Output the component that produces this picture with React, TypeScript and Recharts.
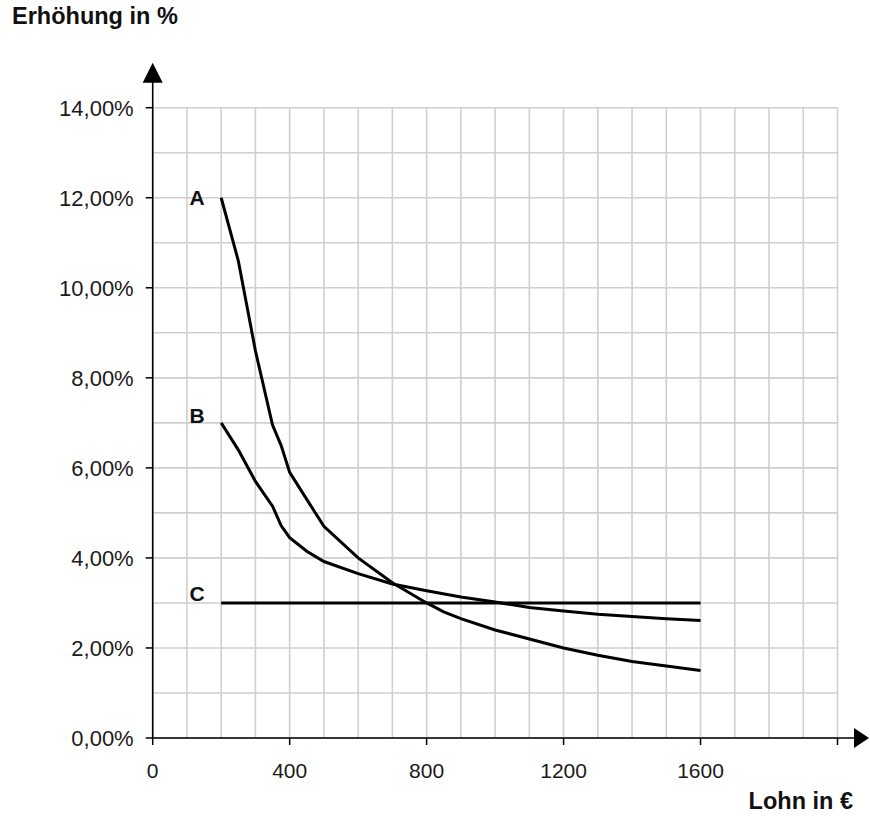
import React from 'react';
import { LineChart, Line, XAxis, YAxis, CartesianGrid, ReferenceLine, ReferenceDot } from 'recharts';

// Kurve A
const lohnA = [200, 250, 300, 350, 375, 400, 450, 500, 600, 700, 800, 850, 900, 1000, 1200, 1300, 1400, 1500, 1600];
const erhoehungA = [12.0, 10.6, 8.6, 6.95, 6.5, 5.9, 5.3, 4.7, 4.0, 3.45, 3.0, 2.8, 2.65, 2.4, 2.0, 1.84, 1.7, 1.6, 1.5];

// Kurve B
const lohnB = [200, 250, 300, 350, 375, 400, 450, 500, 600, 700, 800, 900, 1000, 1100, 1200, 1300, 1400, 1500, 1600];
const erhoehungB = [7.0, 6.4, 5.7, 5.15, 4.72, 4.45, 4.15, 3.92, 3.65, 3.42, 3.27, 3.13, 3.02, 2.9, 2.82, 2.75, 2.7, 2.65, 2.61];

// Kurve C
const lohnC = [200, 1600];
const erhoehungC = [3, 3];

const xTicks = [0, 400, 800, 1200, 1600, 2000];
const yTicks = [0, 2, 4, 6, 8, 10, 12, 14];
const gridX = Array.from({ length: 21 }, (_, i) => i * 100);
const gridY = Array.from({ length: 15 }, (_, i) => i);

const toRows = (xs: number[], ys: number[]) => xs.map((x, i) => ({ x, y: ys[i] }));
const dataA = toRows(lohnA, erhoehungA);
const dataB = toRows(lohnB, erhoehungB);
const dataC = toRows(lohnC, erhoehungC);

const font = '"Liberation Sans", Arial, sans-serif';
const xTickStyle = { fill: '#1a1a1a', fontSize: 21, fontFamily: font };
const yTickStyle = { fill: '#1a1a1a', fontSize: 22, fontFamily: font };

const seriesLabel = (name: string, dy: number) => (props: any) => {
  if (props.index !== 0) return null;
  return (
    <text
      key={name}
      x={props.x - 24}
      y={props.y + dy}
      textAnchor="middle"
      dominantBaseline="central"
      fontFamily={font}
      fontWeight="bold"
      fontSize={21}
      fill="#111"
    >
      {name}
    </text>
  );
};

const UpArrow = (props: any) => (
  <polygon points={`${props.cx},${props.cy} ${props.cx - 10},${props.cy + 20} ${props.cx + 10},${props.cy + 20}`} fill="#000" />
);
const RightArrow = (props: any) => (
  <polygon points={`${props.cx},${props.cy} ${props.cx - 15},${props.cy - 10} ${props.cx - 15},${props.cy + 10}`} fill="#000" />
);

export default function App() {
  return (
    <div style={{ position: 'absolute', left: 0, top: 0, width: 870, height: 816, background: '#fff' }}>
      <div style={{ position: 'absolute', left: 12, top: 3, fontFamily: font, fontWeight: 'bold', fontSize: 23.5, lineHeight: '27px', color: '#111' }}>
        Erhöhung in %
      </div>
      <div style={{ position: 'absolute', right: 17, top: 788, fontFamily: font, fontWeight: 'bold', fontSize: 23.5, lineHeight: '27px', color: '#111' }}>
        Lohn in €
      </div>
      <LineChart width={870} height={816} margin={{ top: 107.7, right: 32.5, bottom: 28, left: 0 }} style={{ overflow: 'visible' }}>
        <CartesianGrid stroke="#cfcfcf" strokeWidth={1.6} horizontalValues={gridY} verticalValues={gridX} />
        <XAxis
          type="number"
          dataKey="x"
          domain={[0, 2000]}
          ticks={xTicks}
          interval={0}
          height={50}
          axisLine={false}
          tickSize={7}
          tickMargin={18}
          tickLine={{ stroke: '#000', strokeWidth: 1.5 }}
          tick={xTickStyle}
          tickFormatter={(v: number) => (v === 2000 ? '' : String(v))}
        />
        <YAxis
          type="number"
          domain={[0, 14]}
          ticks={yTicks}
          interval={0}
          width={152.7}
          axisLine={false}
          tickSize={7}
          tickMargin={12}
          tickLine={{ stroke: '#000', strokeWidth: 1.5 }}
          tick={yTickStyle}
          tickFormatter={(v: number) => v.toFixed(2).replace('.', ',') + '%'}
        />
        <ReferenceLine segment={[{ x: 0, y: 0 }, { x: 2055, y: 0 }]} stroke="#000" strokeWidth={1.6} ifOverflow="visible" />
        <ReferenceLine segment={[{ x: 0, y: 0 }, { x: 0, y: 14.6 }]} stroke="#000" strokeWidth={1.6} ifOverflow="visible" />
        <ReferenceDot x={0} y={15} ifOverflow="visible" shape={UpArrow} />
        <ReferenceDot x={2092} y={0} ifOverflow="visible" shape={RightArrow} />
        <Line data={dataA} dataKey="y" type="linear" stroke="#000" strokeWidth={3} dot={false} isAnimationActive={false} label={seriesLabel('A', 0)} />
        <Line data={dataB} dataKey="y" type="linear" stroke="#000" strokeWidth={3} dot={false} isAnimationActive={false} label={seriesLabel('B', -7)} />
        <Line data={dataC} dataKey="y" type="linear" stroke="#000" strokeWidth={3} dot={false} isAnimationActive={false} label={seriesLabel('C', -9)} />
      </LineChart>
    </div>
  );
}
